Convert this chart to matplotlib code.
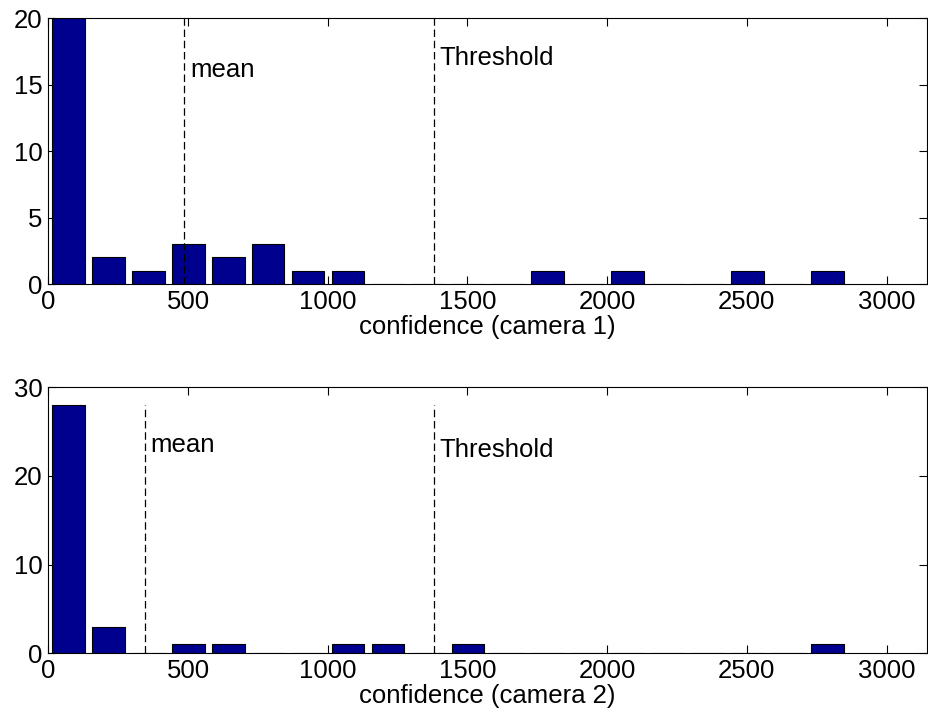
import matplotlib.pyplot as plt
import numpy as np

plt.rcParams['font.family'] = ['Liberation Sans', 'DejaVu Sans']
plt.rcParams['font.size'] = 18.5

# histogram of confidence values, 20 equal bins starting at 0
bin_width = 143.0
counts_cam1 = [20, 2, 1, 3, 2, 3, 1, 1, 0, 0, 0, 0, 1, 0, 1, 0, 0, 1, 0, 1]
counts_cam2 = [28, 3, 0, 1, 1, 0, 0, 1, 1, 0, 1, 0, 0, 0, 0, 0, 0, 0, 0, 1]

mean_cam1 = 487
mean_cam2 = 346
threshold = 1380

xlabels = ['confidence (camera 1)', 'confidence (camera 2)']
ylims = [20, 30]
yticks = [[0, 5, 10, 15, 20], [0, 10, 20, 30]]
# y position of the text labels (data units)
mean_text_y = [16.1, 23.5]
thr_text_y = [17.0, 22.9]

bar_color = '#00008F'

fig = plt.figure(figsize=(9.29, 7.19), dpi=100)
ax1 = fig.add_axes([0.052, 0.605, 0.946, 0.3695])
ax2 = fig.add_axes([0.052, 0.0914, 0.946, 0.370])

data = [counts_cam1, counts_cam2]
means = [mean_cam1, mean_cam2]

for i, ax in enumerate([ax1, ax2]):
    counts = data[i]
    centers = bin_width / 2 + bin_width * np.arange(len(counts))
    ax.bar(centers, counts, width=0.82 * bin_width, color=bar_color,
           edgecolor='black', linewidth=0.8, zorder=2)

    top = max(counts)
    ax.plot([means[i], means[i]], [0, top], color='black', lw=0.9,
            linestyle=(0, (6, 3)), zorder=3)
    ax.plot([threshold, threshold], [0, top], color='black', lw=0.9,
            linestyle=(0, (6, 3)), zorder=3)
    ax.text(means[i] + 20, mean_text_y[i], 'mean', va='center', ha='left')
    ax.text(threshold + 18, thr_text_y[i], 'Threshold', va='center', ha='left')

    ax.set_xlim(0, 3145)
    ax.set_ylim(0, ylims[i])
    ax.set_xticks([0, 500, 1000, 1500, 2000, 2500, 3000])
    ax.set_yticks(yticks[i])
    ax.tick_params(direction='in', top=True, right=True, length=6, width=0.8,
                   labelsize=18.5, pad=4)
    ax.set_xlabel(xlabels[i], fontsize=18.5, labelpad=1)
    for s in ax.spines.values():
        s.set_linewidth(0.8)

plt.savefig('out.png', dpi=100)
